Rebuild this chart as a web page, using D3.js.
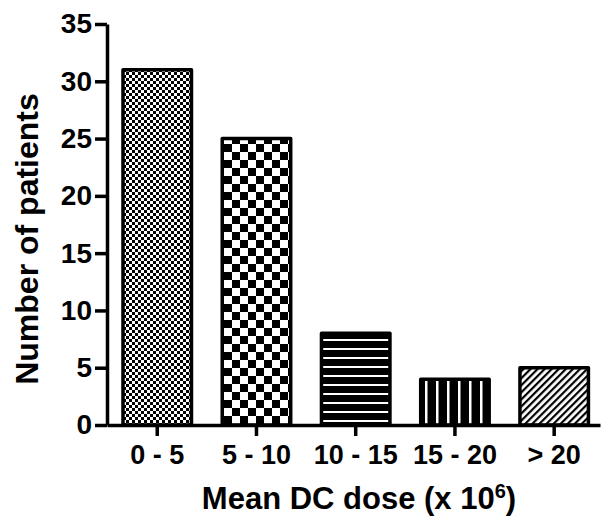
<!DOCTYPE html>
<html>
<head>
<meta charset="utf-8">
<script src="https://cdn.jsdelivr.net/npm/d3@7"></script>
<style>
  body { margin: 0; background: #fff; }
  text { font-family: "Liberation Sans", Arial, sans-serif; font-weight: bold; fill: #000; }
</style>
</head>
<body>
<svg width="607" height="525"></svg>
<script>
var categories = ["0 - 5", "5 - 10", "10 - 15", "15 - 20", "> 20"];
var patients = [31, 25, 8, 4, 5];
var patternIds = ["fineCheck", "bigCheck", "hLines", "vLines", "diag"];
var yTicks = [0, 5, 10, 15, 20, 25, 30, 35];

var svg = d3.select("svg");

// fill patterns
var defs = svg.append("defs");

var p1 = defs.append("pattern").attr("id", "fineCheck")
    .attr("patternUnits", "userSpaceOnUse").attr("width", 6).attr("height", 6);
p1.append("rect").attr("width", 6).attr("height", 6).attr("fill", "#fff");
p1.append("rect").attr("width", 3).attr("height", 3).attr("fill", "#000");
p1.append("rect").attr("x", 3).attr("y", 3).attr("width", 3).attr("height", 3).attr("fill", "#000");

var p2 = defs.append("pattern").attr("id", "bigCheck")
    .attr("patternUnits", "userSpaceOnUse").attr("width", 16).attr("height", 16);
p2.append("rect").attr("width", 16).attr("height", 16).attr("fill", "#fff");
p2.append("rect").attr("width", 8).attr("height", 8).attr("fill", "#000");
p2.append("rect").attr("x", 8).attr("y", 8).attr("width", 8).attr("height", 8).attr("fill", "#000");

var p3 = defs.append("pattern").attr("id", "hLines")
    .attr("patternUnits", "userSpaceOnUse").attr("width", 9).attr("height", 9);
p3.append("rect").attr("width", 9).attr("height", 9).attr("fill", "#000");
p3.append("rect").attr("y", 6).attr("width", 9).attr("height", 2).attr("fill", "#fff");

var p4 = defs.append("pattern").attr("id", "vLines")
    .attr("patternUnits", "userSpaceOnUse").attr("width", 11).attr("height", 11);
p4.append("rect").attr("width", 11).attr("height", 11).attr("fill", "#000");
p4.append("rect").attr("x", 7).attr("width", 2.5).attr("height", 11).attr("fill", "#fff");

var p5 = defs.append("pattern").attr("id", "diag")
    .attr("patternUnits", "userSpaceOnUse").attr("width", 5).attr("height", 5)
    .attr("patternTransform", "rotate(45)");
p5.append("rect").attr("width", 5).attr("height", 5).attr("fill", "#fff");
p5.append("rect").attr("width", 2.2).attr("height", 5).attr("fill", "#000");

var x = d3.scaleBand().domain(categories).range([107, 600])
    .paddingInner(0.31).paddingOuter(0.139).align(0.58);
var y = d3.scaleLinear().domain([0, 35]).range([425, 24]);

// bars
svg.selectAll(".bar")
  .data(patients)
  .enter().append("rect")
    .attr("class", "bar")
    .attr("x", function(d, i) { return x(categories[i]); })
    .attr("y", function(d) { return y(d); })
    .attr("width", x.bandwidth())
    .attr("height", function(d) { return y(0) - y(d); })
    .attr("fill", function(d, i) { return "url(#" + patternIds[i] + ")"; })
    .attr("stroke", "#000")
    .attr("stroke-width", 3.5)
    .attr("stroke-linejoin", "round");

// x axis
var gx = svg.append("g")
    .attr("transform", "translate(0," + y(0) + ")")
    .call(d3.axisBottom(x).tickSize(11).tickSizeOuter(0).tickPadding(9));
gx.select(".domain").attr("stroke-width", 3.5);
gx.selectAll(".tick line").attr("stroke-width", 3.5);
gx.selectAll(".tick text").style("font-size", "27px")
    .style("font-family", "'Liberation Sans', Arial, sans-serif").style("font-weight", "bold");

// y axis
var gy = svg.append("g")
    .attr("transform", "translate(107,0)")
    .call(d3.axisLeft(y).tickValues(yTicks).tickSize(12).tickSizeOuter(0).tickPadding(3));
gy.select(".domain").attr("stroke-width", 3.5);
gy.selectAll(".tick line").attr("stroke-width", 3.5);
gy.selectAll(".tick text").style("font-size", "28px")
    .style("font-family", "'Liberation Sans', Arial, sans-serif").style("font-weight", "bold");

// axis titles
svg.append("text")
    .attr("transform", "translate(38,239) rotate(-90)")
    .attr("text-anchor", "middle")
    .style("font-size", "32px")
    .text("Number of patients");

var xt = svg.append("text")
    .attr("x", 359)
    .attr("y", 509)
    .attr("text-anchor", "middle")
    .style("font-size", "31px");
xt.append("tspan").text("Mean DC dose (x 10");
xt.append("tspan").attr("dy", -11).style("font-size", "20px").text("6");
xt.append("tspan").attr("dy", 11).text(")");
</script>
</body>
</html>
